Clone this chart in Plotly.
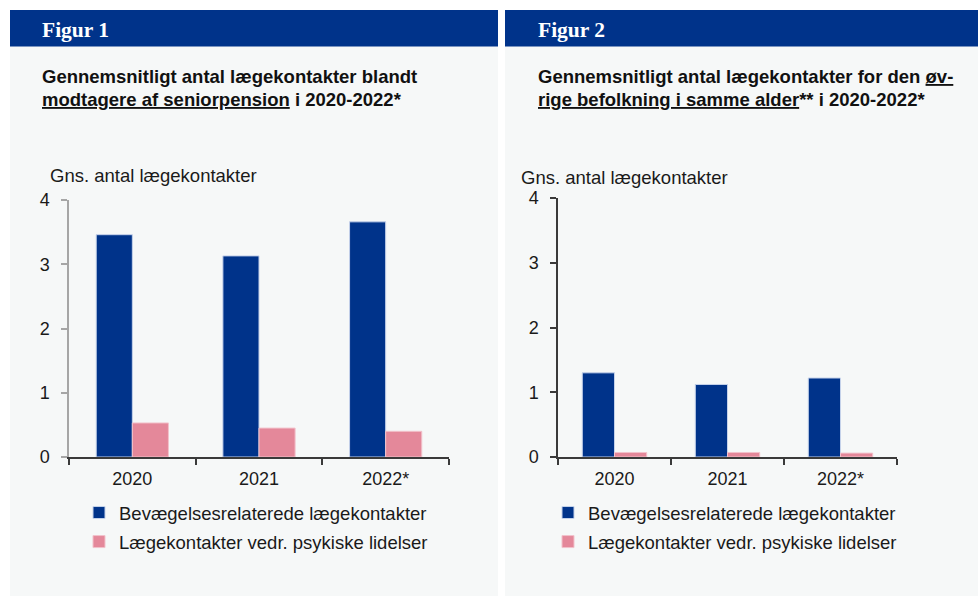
import plotly.graph_objects as go

# ---------------- data ----------------
years = ["2020", "2021", "2022*"]
senior_bevaeg = [3.46, 3.13, 3.66]
senior_psyk = [0.53, 0.45, 0.40]
oevrige_bevaeg = [1.30, 1.12, 1.22]
oevrige_psyk = [0.07, 0.07, 0.06]
series_names = ["Bevægelsesrelaterede lægekontakter", "Lægekontakter vedr. psykiske lidelser"]
y_ticks = [0, 1, 2, 3, 4]

W, H = 979, 596
BLUE = "#00338a"
PINK = "#e4889a"
PANEL_BG = "#f6f8f8"
FONT = "Liberation Sans, Arial, sans-serif"
SERIF = "Liberation Serif, Times New Roman, serif"
FS = 18.5


def px(x):
    return x / W


def py(y):
    return 1 - y / H


fig = go.Figure()

bar_styles = [dict(color=BLUE, line=dict(color="#c5d2ea", width=1)),
              dict(color=PINK, line=dict(color="#f2c2cb", width=1))]

for i, (vals, name) in enumerate(zip([senior_bevaeg, senior_psyk], series_names)):
    fig.add_trace(go.Bar(x=years, y=vals, name=name, marker=bar_styles[i], xaxis="x", yaxis="y",
                         legend="legend", legendgroup="g%d" % i))
for i, (vals, name) in enumerate(zip([oevrige_bevaeg, oevrige_psyk], series_names)):
    fig.add_trace(go.Bar(x=years, y=vals, name=name, marker=bar_styles[i], xaxis="x2", yaxis="y2",
                         legend="legend2", legendgroup="h%d" % i))

tickfont = dict(family=FONT, size=18, color="#1a1a1a")


def xaxis_cfg(domain, anchor, linecolor):
    return dict(domain=domain, anchor=anchor, type="category", showline=True, linecolor=linecolor, linewidth=1.5,
                ticks="outside", tickson="boundaries", ticklen=6, tickcolor=linecolor, tickwidth=1.5,
                showgrid=False, zeroline=False, tickfont=tickfont, ticklabelstandoff=5, fixedrange=True,
                automargin=False)


def yaxis_cfg(domain, anchor, linecolor, side="left", overlaying=None):
    d = dict(domain=domain, anchor=anchor, range=[0, 4], autorange=False, tickvals=y_ticks,
             showline=True, linecolor=linecolor, linewidth=1.5, ticks="outside", ticklen=6,
             tickcolor=linecolor, tickwidth=1.5, showgrid=False, zeroline=False, tickfont=tickfont,
             side=side, ticklabelstandoff=8, fixedrange=True, automargin=False)
    if overlaying:
        d["overlaying"] = overlaying
    return d


GREY = "#a6a6a6"
DARK = "#3a3a3a"

legend_common = dict(yanchor="top", xanchor="left", bgcolor="rgba(0,0,0,0)",
                     font=dict(family=FONT, size=FS, color="#1a1a1a"), itemwidth=30,
                     tracegroupgap=2, traceorder="grouped")

fig.update_layout(
    width=W, height=H, margin=dict(l=0, r=0, t=0, b=0, pad=0, autoexpand=False),
    paper_bgcolor="white", plot_bgcolor="rgba(0,0,0,0)",
    barmode="group", bargap=0.43, bargroupgap=0,
    font=dict(family=FONT, size=18, color="#1a1a1a"),
    xaxis=xaxis_cfg([px(69), px(449)], "y", DARK),
    yaxis=yaxis_cfg([py(457), py(200)], "x", GREY),
    yaxis3=yaxis_cfg([py(457), py(200)], "x", GREY, side="right", overlaying="y"),
    xaxis2=xaxis_cfg([px(558), px(897)], "y2", DARK),
    yaxis2=yaxis_cfg([py(457), py(198)], "x2", DARK),
    yaxis4=yaxis_cfg([py(457), py(198)], "x2", DARK, side="right", overlaying="y2"),
    legend=dict(x=px(79), y=py(494), **legend_common),
    legend2=dict(x=px(548), y=py(494), **legend_common),
    showlegend=True,
)

# panel backgrounds and header bars
for x0, x1 in [(10, 498), (505, 978)]:
    fig.add_shape(type="rect", xref="paper", yref="paper", x0=px(x0), x1=px(x1), y0=py(596), y1=py(10),
                  fillcolor=PANEL_BG, line=dict(width=0), layer="below")
    fig.add_shape(type="rect", xref="paper", yref="paper", x0=px(x0), x1=px(x1), y0=py(46.5), y1=py(10),
                  fillcolor=BLUE, line=dict(width=0), layer="below")

U = '<span style="text-decoration:underline">'
titlefont = dict(family=FONT, size=FS, color="#111")
labfont = dict(family=FONT, size=FS, color="#1a1a1a")
headfont = dict(family=SERIF, size=21.5, color="white")
texts = [
    (40, 30, "<b>Figur 1</b>", headfont),
    (536, 30, "<b>Figur 2</b>", headfont),
    (40, 77, "<b>Gennemsnitligt antal lægekontakter blandt</b>", titlefont),
    (40, 100, "<b>" + U + "modtagere af seniorpension</span> i 2020-2022*</b>", titlefont),
    (536, 77, "<b>Gennemsnitligt antal lægekontakter for den " + U + "øv-</span></b>", titlefont),
    (536, 100, "<b>" + U + "rige befolkning i samme alder</span>** i 2020-2022*</b>", titlefont),
    (48, 175, "Gns. antal lægekontakter", labfont),
    (519, 177, "Gns. antal lægekontakter", labfont),
]
for x, y, t, f in texts:
    fig.add_annotation(x=px(x), y=py(y), xref="paper", yref="paper", text=t, showarrow=False,
                       xanchor="left", yanchor="middle", font=f, align="left")

fig.write_html("out.html", config={"displayModeBar": False},
               post_script="document.body.style.margin='0';document.body.style.overflow='hidden';")
